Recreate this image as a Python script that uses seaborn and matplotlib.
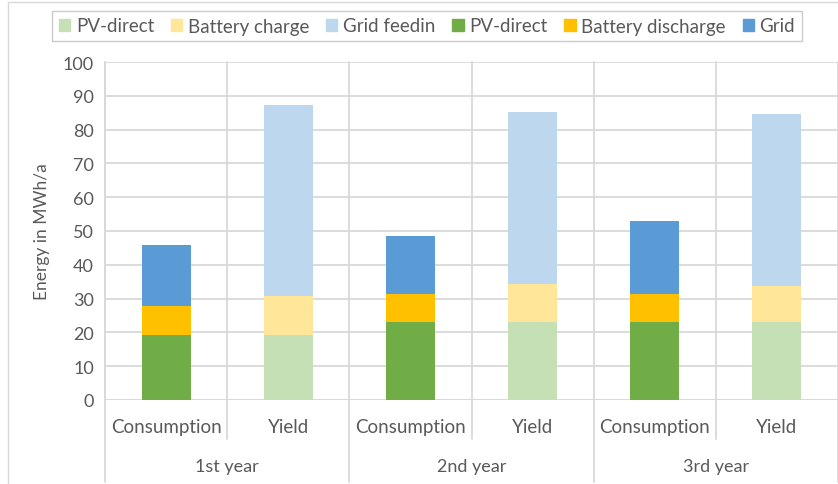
import pandas as pd
import matplotlib.pyplot as plt
import matplotlib.transforms as mtransforms
from matplotlib.patches import Patch
from matplotlib.lines import Line2D
import seaborn as sns

# dados (MWh/a)
years = ["1st year", "2nd year", "3rd year"]
kinds = ["Consumption", "Yield"]
cons_pv = [19.3, 23.0, 23.2]
cons_batt = [8.6, 8.4, 8.1]
cons_grid = [17.9, 17.2, 21.6]
yield_pv = [19.3, 23.0, 23.2]
yield_batt = [11.5, 11.2, 10.6]
yield_feed = [56.5, 50.9, 50.7]

c_light_green = "#C5E0B4"
c_light_yellow = "#FFE699"
c_light_blue = "#BDD7EE"
c_green = "#70AD47"
c_orange = "#FFC000"
c_blue = "#5B9BD5"
txt = "#595959"
grid_c = "#D9D9D9"

sns.set_style("white")
plt.rcParams["font.family"] = ["Lato", "DejaVu Sans"]

slots = [f"{y}|{k}" for y in years for k in kinds]

# monta os acumulados para empilhar (desenha do maior para o menor)
rows = []
for i, y in enumerate(years):
    rows.append({"slot": f"{y}|Consumption", "l1": cons_pv[i],
                 "l2": cons_pv[i] + cons_batt[i],
                 "l3": cons_pv[i] + cons_batt[i] + cons_grid[i]})
    rows.append({"slot": f"{y}|Yield", "l1": yield_pv[i],
                 "l2": yield_pv[i] + yield_batt[i],
                 "l3": yield_pv[i] + yield_batt[i] + yield_feed[i]})
df = pd.DataFrame(rows)
df_c = df[df["slot"].str.endswith("Consumption")]
df_y = df[df["slot"].str.endswith("Yield")]

fig = plt.figure(figsize=(8.38, 4.85), dpi=100)
ax = fig.add_axes([105 / 838, 1 - 401 / 485, 733 / 838, 338 / 485])

layers = [
    (df_c, "l3", c_blue), (df_c, "l2", c_orange), (df_c, "l1", c_green),
    (df_y, "l3", c_light_blue), (df_y, "l2", c_light_yellow), (df_y, "l1", c_light_green),
]
for d, col, color in layers:
    sns.barplot(data=d, x="slot", y=col, order=slots, color=color, width=0.4,
                saturation=1, linewidth=0, ax=ax, zorder=3)

ax.set_ylim(0, 100)
ax.set_xlim(-0.5, 5.5)
ax.set_yticks(range(0, 101, 10))
ax.tick_params(axis="y", labelsize=13, colors=txt, length=0, pad=8)
ax.set_xticks([])
ax.set_xlabel("")
ax.set_ylabel("Energy in MWh/a", fontsize=12.5, color=txt, labelpad=9)
ax.grid(axis="y", color=grid_c, linewidth=1.3, zorder=0)
for s in ["top", "right", "bottom"]:
    ax.spines[s].set_visible(False)
ax.spines["left"].set_color(grid_c)
ax.spines["left"].set_linewidth(1.3)
ax.axhline(0, color=grid_c, linewidth=1.3, zorder=2)

# linhas verticais entre categorias e eixo de dois niveis
trans = mtransforms.blended_transform_factory(ax.transData, ax.transAxes)
short_end = -(440 - 401) / 338
long_end = -(483 - 401) / 338
for b in [-0.5, 0.5, 1.5, 2.5, 3.5, 4.5, 5.5]:
    is_year = b in (-0.5, 1.5, 3.5, 5.5)
    y0 = long_end if is_year else short_end
    ax.add_line(Line2D([b, b], [y0, 1], transform=trans, color=grid_c,
                       linewidth=1.3, clip_on=False, zorder=1))

for i, s in enumerate(slots):
    ax.text(i, -(428 - 401) / 338, s.split("|")[1], transform=trans,
            ha="center", va="center", fontsize=13.5, color=txt)
for j, y in enumerate(years):
    ax.text(2 * j + 0.5, -(467 - 401) / 338, y, transform=trans,
            ha="center", va="center", fontsize=13, color=txt)

handles = [
    Patch(color=c_light_green, label="PV-direct"),
    Patch(color=c_light_yellow, label="Battery charge"),
    Patch(color=c_light_blue, label="Grid feedin"),
    Patch(color=c_green, label="PV-direct"),
    Patch(color=c_orange, label="Battery discharge"),
    Patch(color=c_blue, label="Grid"),
]
leg = fig.legend(handles=handles, ncol=6, loc="center", bbox_to_anchor=(427 / 838, 1 - 27 / 485),
                 fontsize=13.5, frameon=True, fancybox=False, handlelength=0.6, handleheight=0.6,
                 handletextpad=0.3, columnspacing=0.9, borderpad=0.35, labelcolor=txt)
leg.get_frame().set_edgecolor("#BFBFBF")
leg.get_frame().set_linewidth(1.0)

# borda da area do grafico (parcialmente cortada)
fig.add_artist(Line2D([8 / 838, 8 / 838], [0, 1 - 3 / 485], transform=fig.transFigure,
                      color=grid_c, linewidth=1.0))
fig.add_artist(Line2D([8 / 838, 1], [1 - 3 / 485, 1 - 3 / 485], transform=fig.transFigure,
                      color=grid_c, linewidth=1.0))

plt.savefig("out.png", dpi=100)
plt.close()
